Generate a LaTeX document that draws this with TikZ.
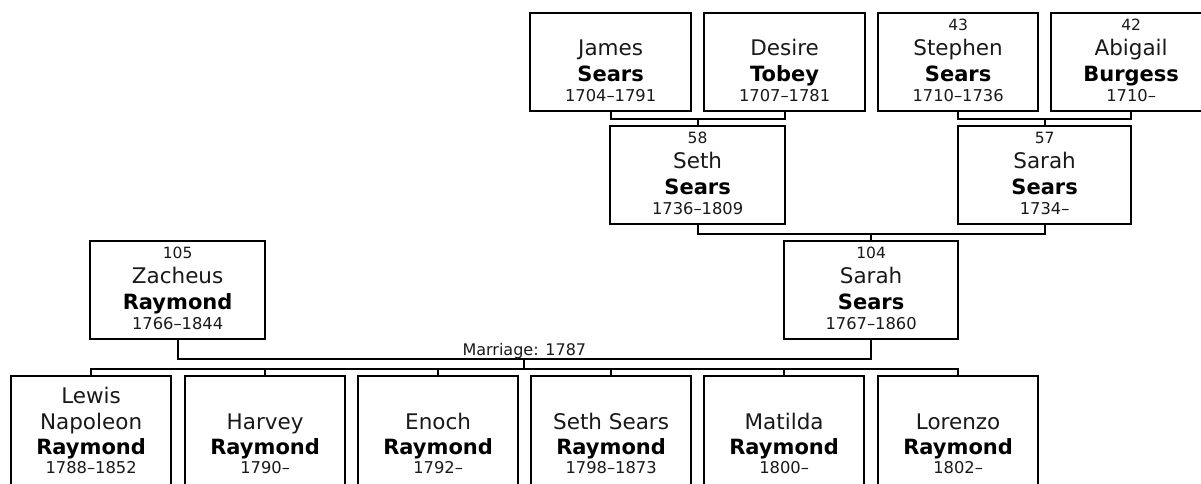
\documentclass[tikz,border=0pt]{standalone}
\usepackage{fontspec}
\setmainfont{DejaVu Sans}
\usetikzlibrary{calc}
\tikzset{
  pbox/.style={draw=black, line width=2.2pt, rectangle, anchor=north west, inner sep=0pt, fill=white},
  conn/.style={draw=black, line width=2.2pt},
  bigtxt/.style={font=\fontsize{21.5}{24}\selectfont, inner sep=0pt, anchor=base, text=black!90},
  surtxt/.style={font=\fontsize{21}{24}\selectfont\bfseries, inner sep=0pt, anchor=base, text=black},
  smalltxt/.style={font=\fontsize{16.3}{18}\selectfont, inner sep=0pt, anchor=base, text=black!90},
  numtxt/.style={font=\fontsize{15.5}{18}\selectfont, inner sep=0pt, anchor=base, text=black!90},
}
% upper person box: id, x, y, width, number, given, surname, dates
\newcommand\upbox[8]{%
  \node[pbox, minimum width=#4pt, minimum height=98pt] (#1) at (#2,#3) {};
  \node[numtxt] (#1-n) at ([yshift=-18pt]#1.north) {#5};
  \node[bigtxt] (#1-g) at ([yshift=-43pt]#1.north) {#6};
  \node[surtxt] (#1-s) at ([yshift=-69pt]#1.north) {#7};
  \node[smalltxt] (#1-d) at ([yshift=-89pt]#1.north) {#8};
}
% child box: id, x, given, surname, dates
\newcommand\childbox[5]{%
  \node[pbox, minimum width=160pt, minimum height=150pt] (#1) at (#2,375) {};
  \node[bigtxt] (#1-g) at ([yshift=-54pt]#1.north) {#3};
  \node[surtxt] (#1-s) at ([yshift=-79pt]#1.north) {#4};
  \node[smalltxt] (#1-d) at ([yshift=-98pt]#1.north) {#5};
}
\begin{document}
\begin{tikzpicture}[x=1pt, y=-1pt]
\useasboundingbox (0,0) rectangle (1201,483);
\clip (0,0) rectangle (1201,483);

% generation 1
\upbox{james}{529}{12}{161}{}{James}{Sears}{1704–1791}
\upbox{desire}{703}{12}{161}{}{Desire}{Tobey}{1707–1781}
\upbox{stephen}{877}{12}{160}{43}{Stephen}{Sears}{1710–1736}
\upbox{abigail}{1050}{12}{160}{42}{Abigail}{Burgess}{1710–}

% generation 2
\upbox{seth}{609}{125}{175}{58}{Seth}{Sears}{1736–1809}
\upbox{sarahb}{957}{125}{173}{57}{Sarah}{Sears}{1734–}

% generation 3
\upbox{zach}{89}{240}{175}{105}{Zacheus}{Raymond}{1766–1844}
\upbox{sarah}{783}{240}{174}{104}{Sarah}{Sears}{1767–1860}

% children
\childbox{lewis}{10}{Napoleon}{Raymond}{1788–1852}
\node[bigtxt] (lewis-g1) at ([yshift=-28pt]lewis.north) {Lewis};
\childbox{harvey}{184}{Harvey}{Raymond}{1790–}
\childbox{enoch}{357}{Enoch}{Raymond}{1792–}
\childbox{sethsears}{530}{Seth Sears}{Raymond}{1798–1873}
\childbox{matilda}{703}{Matilda}{Raymond}{1800–}
\childbox{lorenzo}{877}{Lorenzo}{Raymond}{1802–}

% connectors: parents of Seth
\draw[conn] (james.south) -- ++(0,7) coordinate (jd) -| (desire.south);
\draw[conn] (seth.north) -- (seth.north |- jd);
% parents of Sarah (57)
\draw[conn] (stephen.south) -- ++(0,7) coordinate (sa) -| (abigail.south);
\draw[conn] (sarahb.north) -- (sarahb.north |- sa);
% parents of Sarah (104)
\draw[conn] (seth.south) -- ++(0,9) coordinate (ss) -| (sarahb.south);
\draw[conn] (sarah.north) -- (sarah.north |- ss);
% marriage
\draw[conn] (zach.south) -- ++(0,19) coordinate (mm) -| (sarah.south);
\coordinate (mc) at ($(mm)!0.5!(mm -| sarah.south)$);
\node[smalltxt, font=\fontsize{16}{18}\selectfont] (mlabel) at ([yshift=4pt]mc) {Marriage: 1787};
% children bus
\draw[conn] (mc) -- ++(0,10) coordinate (cb);
\draw[conn] (lewis.north) -- (lewis.north |- cb) -- (lorenzo.north |- cb) -- (lorenzo.north);
\foreach \c in {harvey,enoch,sethsears,matilda}
  \draw[conn] (\c.north) -- (\c.north |- cb);
\end{tikzpicture}
\end{document}
